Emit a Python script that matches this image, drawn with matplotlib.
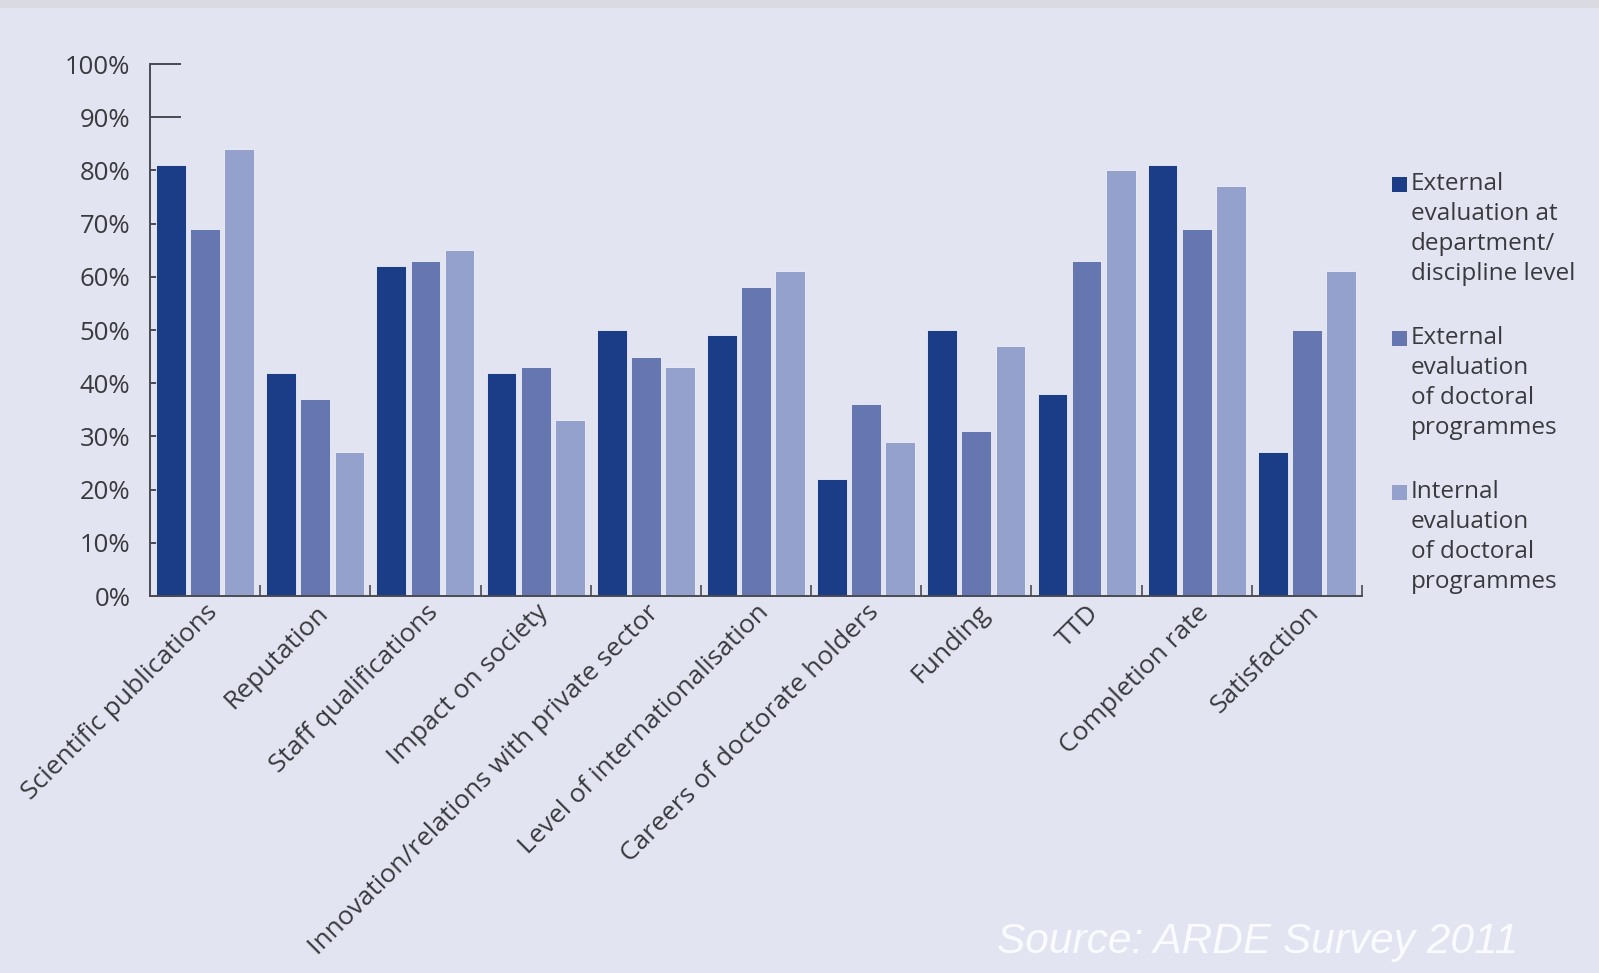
import matplotlib.pyplot as plt
from matplotlib.patches import Rectangle
import numpy as np

categories = [
    "Scientific publications",
    "Reputation",
    "Staff qualifications",
    "Impact on society",
    "Innovation/relations with private sector",
    "Level of internationalisation",
    "Careers of doctorate holders",
    "Funding",
    "TTD",
    "Completion rate",
    "Satisfaction",
]
ext_department = [81, 42, 62, 42, 50, 49, 22, 50, 38, 81, 27]
ext_programmes = [69, 37, 63, 43, 45, 58, 36, 31, 63, 69, 50]
int_programmes = [84, 27, 65, 33, 43, 61, 29, 47, 80, 77, 61]

series_labels = [
    "External\nevaluation at\ndepartment/\ndiscipline level",
    "External\nevaluation\nof doctoral\nprogrammes",
    "Internal\nevaluation\nof doctoral\nprogrammes",
]
series_colors = ["#1b3d88", "#6676b0", "#94a1cc"]
y_ticks = list(range(0, 101, 10))

BG = "#e2e5f1"
AXIS = "#4a4a52"
TEXT = "#3a3a3e"

plt.rcParams["font.family"] = ["Open Sans", "DejaVu Sans"]

fig = plt.figure(figsize=(15.99, 9.73), dpi=100, facecolor=BG)
ax = fig.add_axes([150 / 1599, 1 - 596 / 973, 1212 / 1599, 532 / 973])
ax.set_facecolor(BG)

# thin grey strip at the very top of the slide
fig.patches.append(Rectangle((0, 1 - 8 / 973), 1, 8 / 973, transform=fig.transFigure,
                             facecolor="#dadbe2", edgecolor="none", zorder=0))

x = np.arange(len(categories)) + 0.5
offsets = [-0.31, 0.0, 0.31]
width = 0.27
for vals, off, col in zip([ext_department, ext_programmes, int_programmes], offsets, series_colors):
    ax.bar(x + off, vals, width=width, color=col, edgecolor="#eef0f8", linewidth=0.6, zorder=3)

ax.set_xlim(0, len(categories))
ax.set_ylim(0, 100)

for side in ["top", "right"]:
    ax.spines[side].set_visible(False)
for side in ["left", "bottom"]:
    ax.spines[side].set_color(AXIS)
    ax.spines[side].set_linewidth(1.4)
    ax.spines[side].set_zorder(4)

ax.set_yticks(y_ticks)
ax.set_yticklabels([f"{t}%" for t in y_ticks])
ax.tick_params(axis="y", direction="in", length=22, width=1.4, color=AXIS,
               labelsize=18.5, labelcolor=TEXT, pad=14)

# separators between groups as major ticks, category names on minor ticks
ax.set_xticks(np.arange(1, len(categories) + 1))
ax.set_xticklabels([])
ax.tick_params(axis="x", which="major", direction="in", length=8, width=1.2, color=AXIS)
ax.set_xticks(x, minor=True)
ax.set_xticklabels(categories, minor=True, rotation=45, ha="right", va="top",
                   rotation_mode="anchor")
ax.tick_params(axis="x", which="minor", length=0, labelsize=19, labelcolor=TEXT, pad=3)

# legend, drawn by hand so each swatch sits on the first line of its label
leg_tops = [184, 338, 492]
for lab, col, top in zip(series_labels, series_colors, leg_tops):
    fig.patches.append(Rectangle((1392 / 1599, 1 - (top + 8) / 973), 15 / 1599, 15 / 973,
                                 transform=fig.transFigure, facecolor=col, edgecolor="none"))
    fig.text(1411 / 1599, 1 - (top - 12) / 973, lab, ha="left", va="top", fontsize=17.5,
             color=TEXT, linespacing=1.33)

fig.text(1518 / 1599, 1 - 953 / 973, "Source: ARDE Survey 2011", ha="right", va="baseline",
         fontsize=30.5, style="italic", color="#fafbff", family="Liberation Sans")

fig.savefig("out.png", dpi=100, facecolor=BG)
